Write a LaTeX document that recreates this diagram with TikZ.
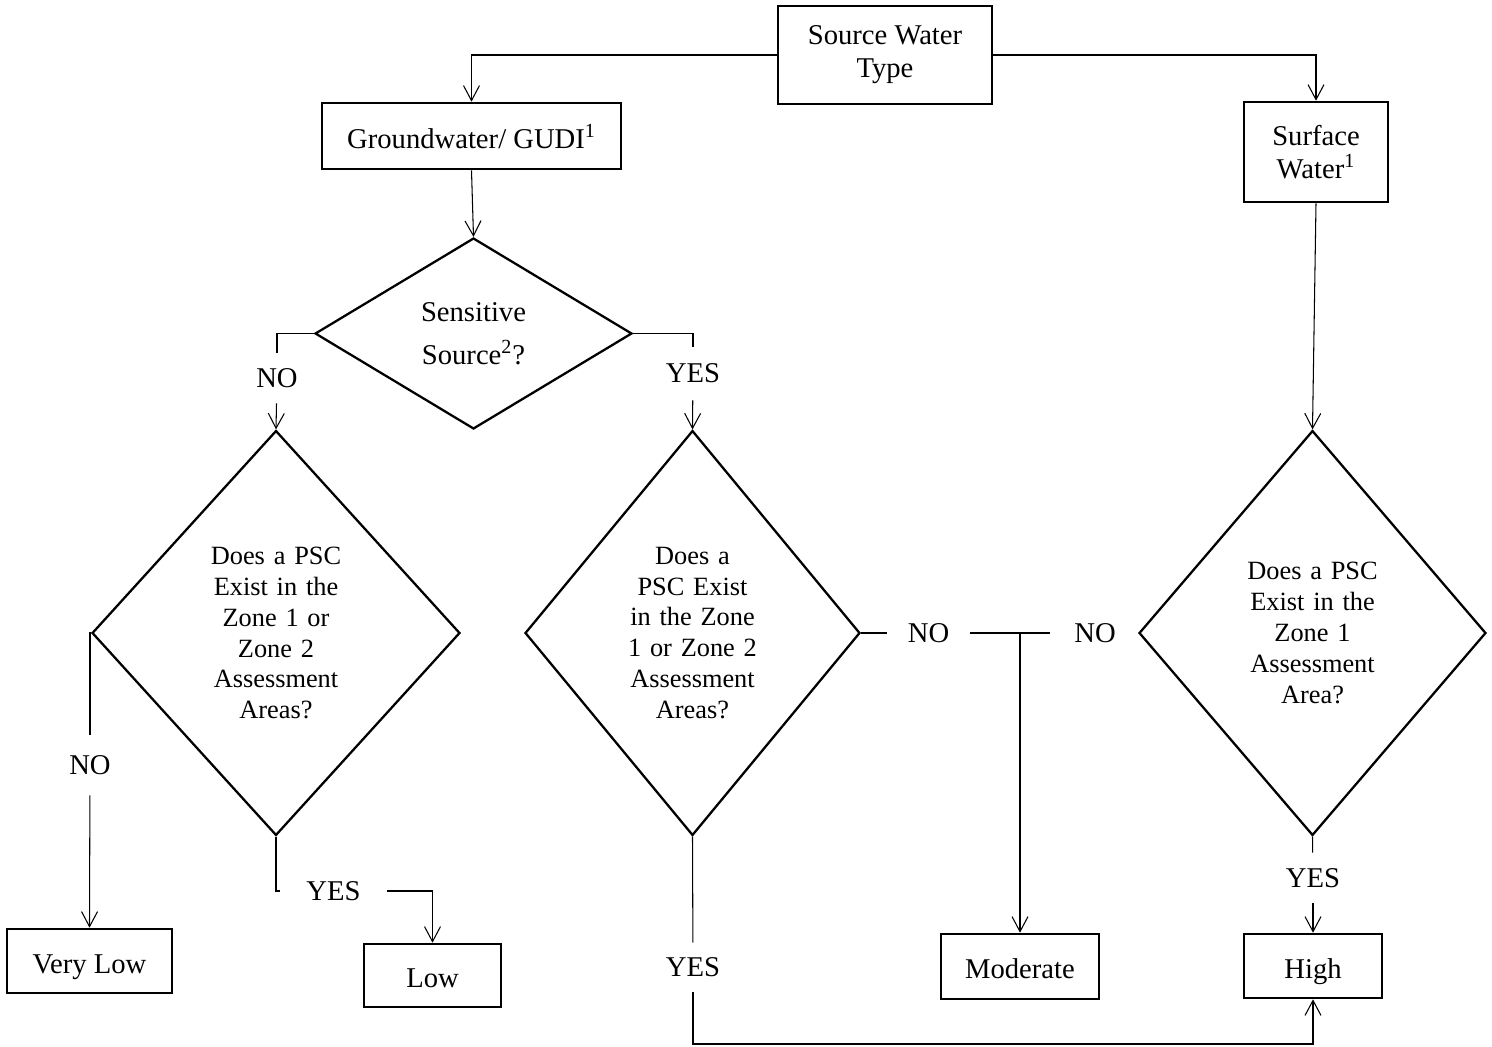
\documentclass[tikz,border=0pt]{standalone}
\usepackage{fontspec}
\setmainfont{Liberation Serif}
\usetikzlibrary{arrows.meta,shapes.geometric}

\begin{document}
\begin{tikzpicture}[
  x=0.02cm, y=-0.02cm,
  font=\fontsize{16.3}{18.7}\selectfont,
  box/.style={draw=black, line width=1.5pt, rectangle, inner sep=0pt,
              align=center},
  one/.style={text height=14pt, text depth=0pt},
  dec/.style={draw=black, line width=1.3pt, diamond, inner sep=0pt,
              align=center},
  qtext/.style={font=\fontsize{15}{17.6}\selectfont, text width=3cm},
  lbl/.style={inner sep=0pt, minimum width=0pt, minimum height=0pt},
  link/.style={black, line width=0.6pt},
  flow/.style={link, -{Straight Barb[length=3mm, width=3.2mm, line width=0.6pt]}},
]
\useasboundingbox (0,0) rectangle (1492,1046);

% ---------------- source type -------------------------------------------
\node[box, minimum width=4.28cm, minimum height=1.96cm] (src) at (885, 55)
  {Source Water\\Type};
\node[box, one, minimum width=5.98cm, minimum height=1.32cm] (gw) at (471.5, 136)
  {Groundwater/ GUDI\textsuperscript{1}};
\node[box, minimum width=2.88cm, minimum height=2.0cm] (sw) at (1316, 152)
  {Surface\\Water\textsuperscript{1}};

% ---------------- decisions ---------------------------------------------
\node[dec, aspect=1.66, minimum width=6.34cm, minimum height=3.82cm]
  (sens) at (473.5, 333.5) {Sensitive\\[6pt]Source\textsuperscript{2}?};
\node[dec, qtext, aspect=0.9, minimum width=7.36cm, minimum height=8.1cm]
  (q1) at (276, 633)
  {Does a PSC\\Exist in the\\Zone 1 or\\Zone 2\\Assessment\\Areas?};
\node[dec, qtext, aspect=0.83, minimum width=6.7cm, minimum height=8.1cm]
  (q2) at (692.5, 633)
  {Does a\\PSC Exist\\in the Zone\\1 or Zone 2\\Assessment\\Areas?};
\node[dec, qtext, aspect=0.86, minimum width=6.94cm, minimum height=8.1cm]
  (q3) at (1312.5, 633)
  {Does a PSC\\Exist in the\\Zone 1\\Assessment\\Area?};

% ---------------- outcomes ----------------------------------------------
\node[box, one, minimum width=3.3cm, minimum height=1.28cm] (vlow) at (89.5, 961) {Very Low};
\node[box, one, minimum width=2.74cm, minimum height=1.26cm] (low) at (432.5, 975.5) {Low};
\node[box, one, minimum width=3.16cm, minimum height=1.3cm] (mod) at (1020, 966.5) {Moderate};
\node[box, one, minimum width=2.76cm, minimum height=1.28cm] (high) at (1313, 966) {High};

% ---------------- answer labels -----------------------------------------
\node[lbl, minimum height=1.0cm] (noA) at (277, 378) {NO};
\node[lbl, minimum height=1.06cm] (yesA) at (693, 373.5) {YES};
\node[lbl, minimum height=1.2cm] (noB) at (90, 765) {NO};
\node[lbl, minimum width=2.14cm] (yesB) at (333.5, 891) {YES};
\node[lbl, minimum height=0.98cm] (yesC) at (693, 967.5) {YES};
\node[lbl, minimum height=1.0cm] (yesD) at (1313, 878) {YES};
\node[lbl, minimum width=1.66cm] (noM) at (928.5, 633) {NO};
\node[lbl, minimum width=1.8cm] (noR) at (1095, 633) {NO};
\coordinate (jn) at (mod.north |- q2.east);
\coordinate (hb) at (1313, 1044);

% ---------------- connectors --------------------------------------------
\draw[flow] (src.west) -| (gw.north);
\draw[flow] (src.east) -| (sw.north);
\draw[flow] (gw.south) -- (sens.north);
\draw[flow] (sw.south) -- (q3.north);

\draw[link] (sens.west) -| (noA);
\draw[flow] (noA) -- (q1.north);
\draw[link] (sens.east) -| (yesA);
\draw[flow] (yesA) -- (q2.north);

\draw[link] (q1.west) -| (noB);
\draw[flow] (noB) -- (vlow.north);
\draw[link] (q1.south) |- (yesB);
\draw[flow] (yesB) -| (low.north);

\draw[link] (q2.east) -- (noM);
\draw[link] (noM) -- (jn);
\draw[link] (noR) -- (jn);
\draw[flow] (jn) -- (mod.north);
\draw[link] (q2.south) -- (yesC);
\draw[flow] (yesC) |- (hb) -- (high.south);

\draw[link] (q3.south) -- (yesD);
\draw[flow] (yesD) -- (high.north);

\end{tikzpicture}
\end{document}
